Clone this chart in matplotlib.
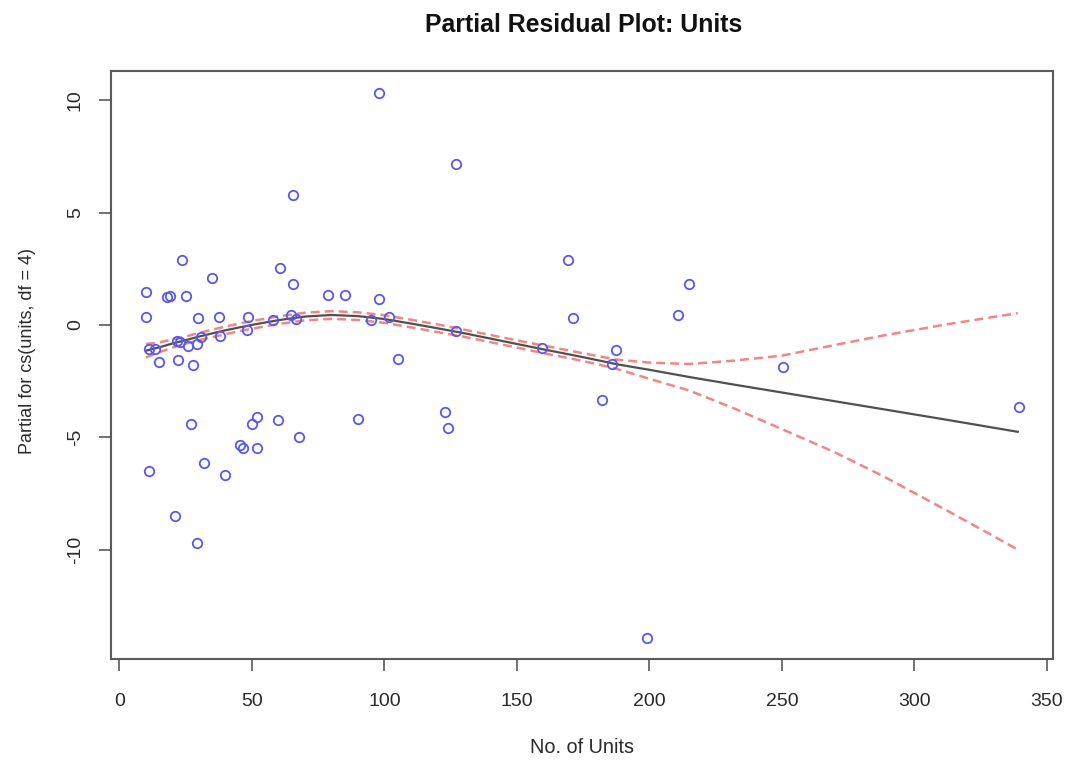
import matplotlib
matplotlib.use("Agg")
import matplotlib.pyplot as plt

# partial residuals
units = [23.7, 34.8, 60.6, 65.6, 9.9, 18.0, 19.1, 25.0, 9.9, 29.7, 37.7, 48.6,
         78.7, 57.8, 64.7, 66.5, 48.0, 37.9, 30.8, 26.0, 29.1, 21.6, 22.8, 11.2,
         13.4, 15.0, 22.0, 27.6, 26.9, 51.8, 49.9, 59.7, 67.8, 45.5, 46.7, 51.8,
         32.0, 11.1, 39.8, 20.9, 29.1, 97.9, 126.9, 65.5, 85.1, 97.9, 94.9,
         101.8, 126.9, 159.3, 186.0, 187.2, 105.0, 169.4, 171.2, 215.0, 210.9,
         182.2, 90.1, 122.8, 123.8, 250.3, 339.4, 199.1]
partial = [2.87, 2.10, 2.53, 1.82, 1.46, 1.24, 1.28, 1.28, 0.34, 0.30, 0.34, 0.34,
           1.31, 0.22, 0.42, 0.27, -0.25, -0.50, -0.55, -0.92, -0.85, -0.70, -0.75,
           -1.07, -1.07, -1.67, -1.56, -1.77, -4.41, -4.08, -4.43, -4.23, -5.00,
           -5.36, -5.46, -5.46, -6.16, -6.52, -6.70, -8.51, -9.70, 10.34, 7.16,
           5.76, 1.34, 1.16, 0.22, 0.37, -0.28, -1.04, -1.74, -1.12, -1.52, 2.89,
           0.30, 1.82, 0.42, -3.33, -4.17, -3.87, -4.58, -1.88, -3.65, -13.94]

# fitted term and its upper / lower bands, read at these x positions
fit_x = [10, 15, 20, 25, 30, 40, 50, 60, 70, 80, 90, 100, 110, 120, 130, 140,
         150, 160, 170, 180, 188, 200, 215, 232, 250, 269, 288, 313, 339]
fit_y = [-1.15, -1.00, -0.83, -0.68, -0.52, -0.24, 0.00, 0.21, 0.37, 0.44,
         0.39, 0.26, 0.06, -0.15, -0.37, -0.61, -0.85, -1.09, -1.32, -1.56,
         -1.76, -2.00, -2.32, -2.66, -3.01, -3.38, -3.75, -4.24, -4.76]
upper = [-0.85, -0.78, -0.65, -0.52, -0.36, -0.07, 0.17, 0.38, 0.54, 0.61,
         0.56, 0.43, 0.23, 0.02, -0.21, -0.45, -0.69, -0.92, -1.15, -1.38,
         -1.55, -1.68, -1.74, -1.59, -1.37, -0.92, -0.48, 0.04, 0.52]
lower = [-1.45, -1.22, -1.01, -0.84, -0.68, -0.41, -0.17, 0.04, 0.20, 0.27,
         0.22, 0.09, -0.11, -0.32, -0.53, -0.77, -1.01, -1.26, -1.49, -1.74,
         -1.97, -2.40, -2.92, -3.72, -4.64, -5.62, -6.72, -8.31, -10.0]

xticks = [0, 50, 100, 150, 200, 250, 300, 350]
yticks = [-10, -5, 0, 5, 10]

plt.rcParams['font.family'] = ['Liberation Sans', 'DejaVu Sans']
txt = '#2a2a2a'
edge = '#5a5a5a'

fig = plt.figure(figsize=(10.72, 7.65), dpi=100)
ax = fig.add_axes([0.1035, 0.1386, 0.8788, 0.7686])

ax.plot(fit_x, fit_y, color='#505050', lw=1.6, zorder=2)
for band in (upper, lower):
    ax.plot(fit_x, band, color='#f07070', lw=1.8, alpha=0.85,
            linestyle=(0, (3.6, 2.0)), zorder=3)
ax.plot(units, partial, 'o', mfc='none', mec='#5858ee', ms=6.8, mew=1.3,
        zorder=4)

ax.set_xlim(-3.2, 352.3)
ax.set_ylim(-14.87, 11.3)
ax.set_xticks(xticks)
ax.set_yticks(yticks)
ax.set_yticklabels([str(v) for v in yticks], rotation=90, va='center')
ax.tick_params(direction='out', length=8.5, width=1.2, color=edge,
               labelsize=14, labelcolor=txt)
ax.tick_params(axis='x', pad=16)
ax.tick_params(axis='y', pad=11)
for s in ax.spines.values():
    s.set_color(edge)
    s.set_linewidth(1.5)

ax.set_xlabel('No. of Units', fontsize=14.3, color=txt, va='center')
ax.xaxis.set_label_coords(0.5, -0.151)
ax.set_ylabel('Partial for cs(units, df = 4)', fontsize=13, color=txt,
              va='center')
ax.yaxis.set_label_coords(-0.0885, 0.524)
fig.text(0.5448, 0.9582, 'Partial Residual Plot: Units', ha='center',
         va='baseline', fontsize=17.9, fontweight='bold', color='#111111')

fig.savefig('out.png', dpi=100)
